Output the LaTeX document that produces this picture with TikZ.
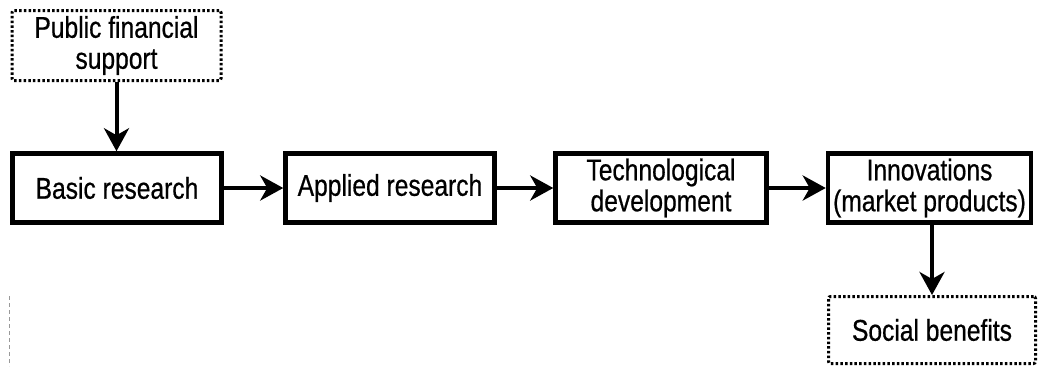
\documentclass[tikz,border=0pt]{standalone}
\usepackage{fontspec}
\setmainfont[FakeStretch=0.82,FakeBold=0.6]{Liberation Sans}
\usetikzlibrary{arrows.meta}
\begin{document}
\begin{tikzpicture}[x=1pt,y=-1pt,
  solidbox/.style={draw=black,line width=4.5pt,rectangle,inner sep=0pt,
    minimum width=209pt,minimum height=69pt,align=center,
    font=\fontsize{30}{31}\selectfont},
  dotbox/.style={draw=black,line width=3pt,rectangle,inner sep=0pt,
    dash pattern=on 2.5pt off 2.2pt,rounded corners=2pt,
    minimum width=209pt,minimum height=70pt,align=center,
    font=\fontsize{30}{31}\selectfont},
  arr/.style={line width=4pt,-{Stealth[length=23pt,width=25pt,inset=7pt]}}]
\useasboundingbox (0,0) rectangle (1038,368);
\node[dotbox] (pub) at (116.5,45.5) {Public financial\\support};
\node[solidbox] (basic) at (117,188) {Basic research};
\node[solidbox] (applied) at (390,188) {Applied research};
\node[solidbox,minimum width=211pt] (tech) at (661,188) {Technological\\development};
\node[solidbox,minimum width=203pt] (innov) at (929.5,188) {Innovations\\(market products)};
\node[dotbox,minimum width=207pt,minimum height=67pt] (social) at (932,330) {Social benefits};
\draw[arr] (pub.south) -- (pub.south |- basic.north);
\draw[arr] (basic.east) -- (applied.west);
\draw[arr] (applied.east) -- (tech.west);
\draw[arr] (tech.east) -- (innov.west);
\draw[arr] (innov.south -| social.north) -- (social.north);
\draw[black!40,line width=0.8pt,dash pattern=on 4pt off 3pt] (9,296) -- (9,366);
\end{tikzpicture}
\end{document}
